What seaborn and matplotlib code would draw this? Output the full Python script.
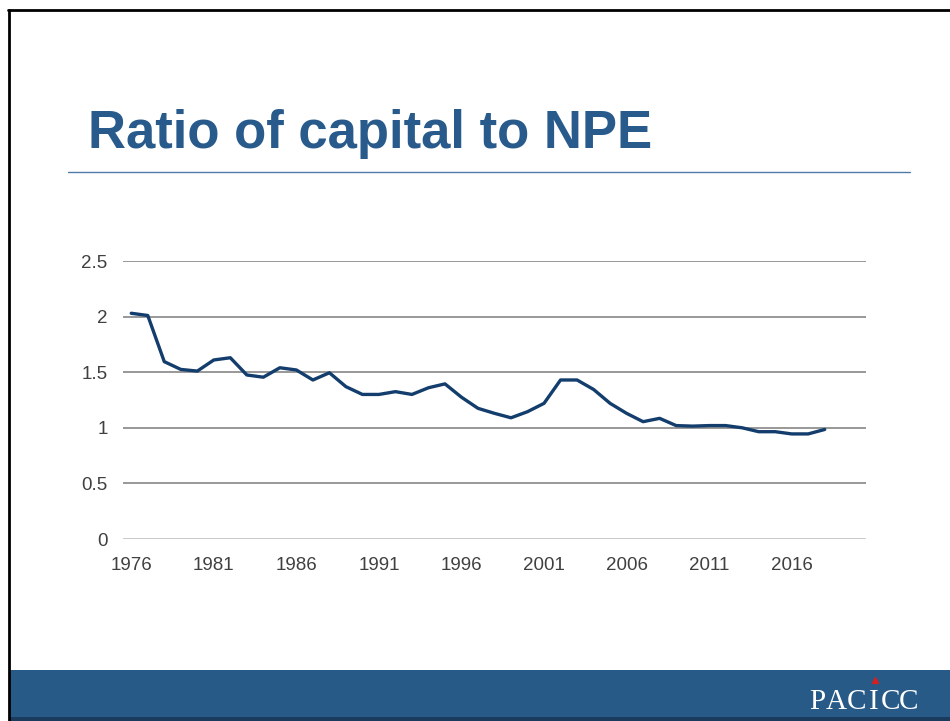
import matplotlib.pyplot as plt
import matplotlib.patches as mpatches
import matplotlib.lines as mlines
import pandas as pd
import seaborn as sns


years = list(range(1976, 2019))
ratio = [2.03, 2.01, 1.595, 1.525, 1.51, 1.61, 1.63, 1.475, 1.455, 1.54,
         1.52, 1.43, 1.495, 1.37, 1.30, 1.30, 1.325, 1.30, 1.36, 1.395,
         1.275, 1.175, 1.13, 1.09, 1.145, 1.22, 1.43, 1.43, 1.345, 1.22,
         1.13, 1.055, 1.085, 1.02, 1.015, 1.02, 1.02, 1.0, 0.965, 0.965,
         0.945, 0.945, 0.985]
x_ticks = list(range(1976, 2017, 5))
y_ticks = [0, 0.5, 1, 1.5, 2, 2.5]

df = pd.DataFrame({"year": years, "ratio": ratio})

sns.set_theme(style="white")
plt.rcParams["font.family"] = ["Liberation Sans", "DejaVu Sans"]

W, H = 950, 721
fig = plt.figure(figsize=(9.5, 7.21), dpi=100)


def fx(px):
    return px / W


def fy(py):
    return 1 - py / H


# slide frame
fig.add_artist(mlines.Line2D([fx(8.5), fx(8.5)], [0, fy(10)], color="black", lw=2))
fig.add_artist(mlines.Line2D([fx(8), 1], [fy(10), fy(10)], color="black", lw=2))

# bottom banner
fig.add_artist(mpatches.Rectangle((fx(9.5), 0), 1, fy(670), color="#285a88", lw=0))
fig.add_artist(mpatches.Rectangle((fx(9.5), 0), 1, 4 / H, color="#1b3b5e", lw=0))
logo = "PACICC"
logo_x = [817.5, 836.5, 856, 873.5, 890.5, 909]
for ch, lx in zip(logo, logo_x):
    fig.text(fx(lx), fy(702), ch, color="white", fontsize=21,
             family="Liberation Serif", ha="center", va="center")
fig.add_artist(mlines.Line2D([fx(874.5)], [fy(680)], marker="^", color="#d42020",
                             markersize=5, lw=0))

# title and rule
fig.text(fx(88), fy(134), "Ratio of capital to NPE", color="#285b8c",
         fontsize=38, weight="bold", ha="left", va="center")
fig.add_artist(mlines.Line2D([fx(68), fx(910)], [fy(172), fy(172)],
                             color="#4f7bab", lw=1))

# chart
ax = fig.add_axes([fx(123), fy(539), fx(866) - fx(123), (539 - 261) / H])
sns.lineplot(data=df, x="year", y="ratio", ax=ax, color="#133d6c", lw=2.4)

ax.set_xlim(1975.5, 2020.5)
ax.set_ylim(0, 2.5)
ax.set_xticks(x_ticks)
ax.set_xticklabels([str(t) for t in x_ticks])
ax.set_yticks(y_ticks)
ax.set_yticklabels(["0", "0.5", "1", "1.5", "2", "2.5"])
ax.set_xlabel("")
ax.set_ylabel("")
for s in ax.spines.values():
    s.set_visible(False)
for t in y_ticks:
    ax.axhline(t, color="#c0c0c0" if t == 0 else "#868686", lw=1.2, zorder=0)
ax.tick_params(axis="both", length=0, labelsize=13.5, labelcolor="#404040")
ax.tick_params(axis="y", pad=11)
ax.tick_params(axis="x", pad=13)
ax.patch.set_alpha(0)

fig.savefig("out.png", dpi=100)
